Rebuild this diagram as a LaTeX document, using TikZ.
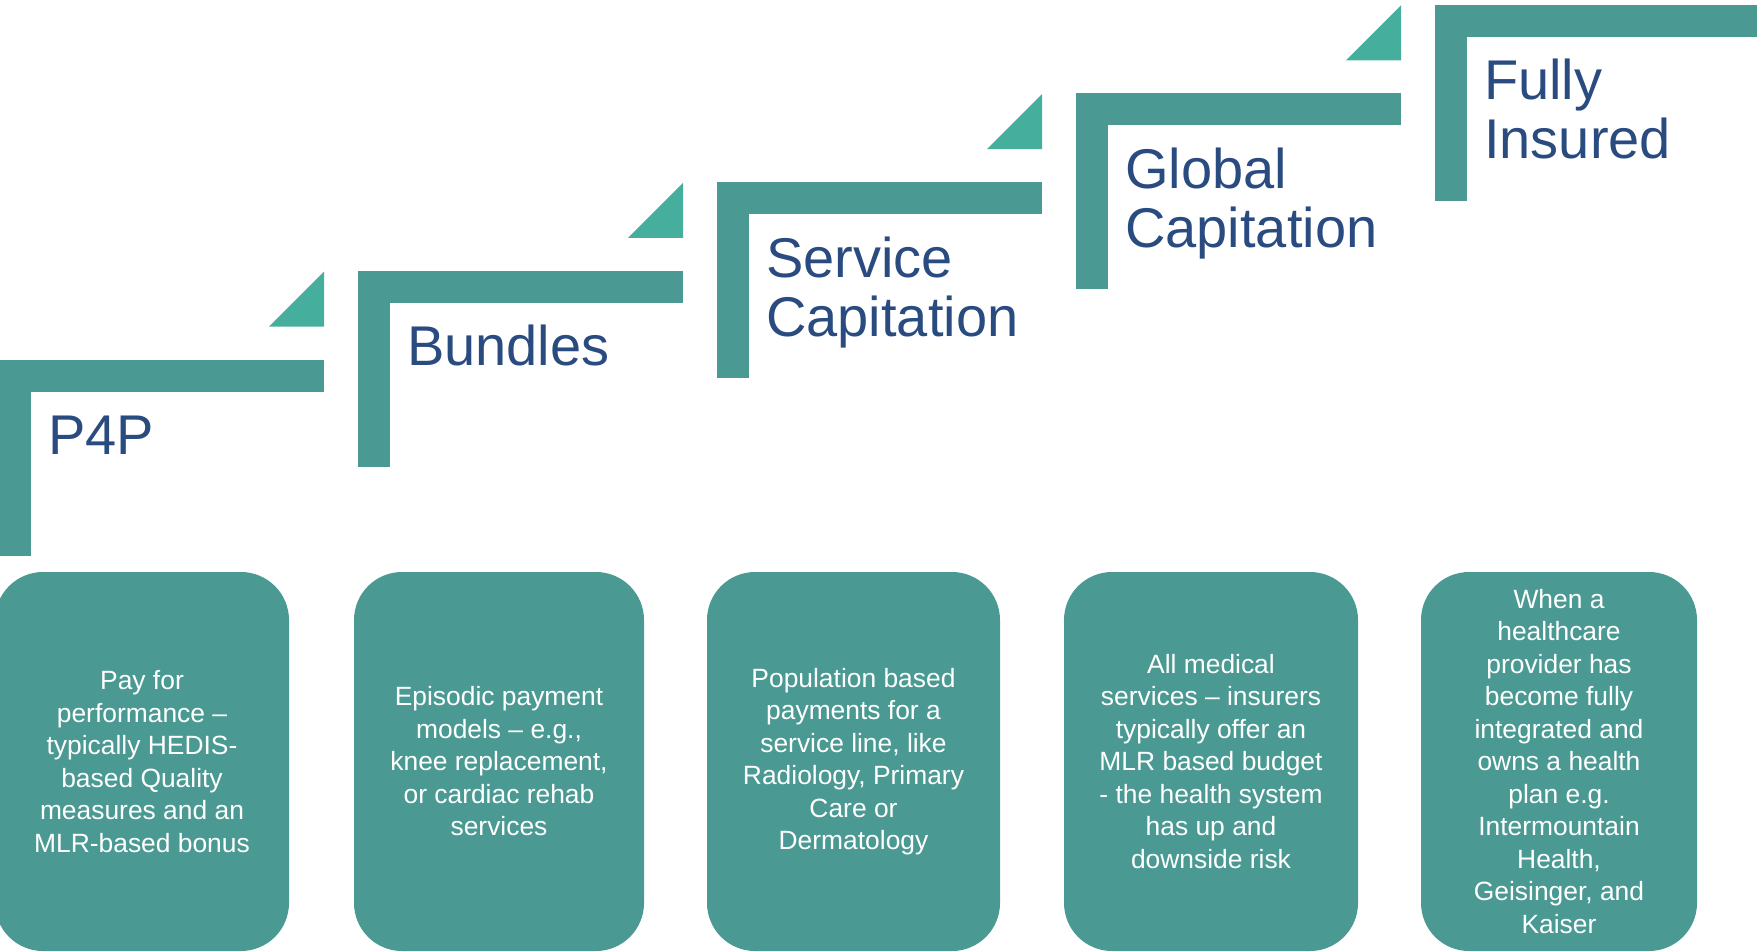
\documentclass[tikz,border=0pt]{standalone}
\usepackage{fontspec}
\setmainfont{Liberation Sans}
\definecolor{barteal}{HTML}{4A9A93}
\definecolor{tipteal}{HTML}{46AE9C}
\definecolor{titleblue}{HTML}{294B80}
\tikzset{
  stepbar/.style={fill=barteal},
  steptip/.style={fill=tipteal},
  steptitle/.style={anchor=base west,inner sep=0pt,align=left,text=titleblue,
    font=\fontsize{56}{59}\selectfont},
  infobox/.style={fill=barteal,rounded corners=48pt,text=white,align=center,
    inner sep=0pt,minimum height=379pt,font=\fontsize{26.4}{32.5}\selectfont}
}

\begin{document}
\begin{tikzpicture}[x=1pt,y=-1pt]
\useasboundingbox (0,0) rectangle (1757,951);
% staircase: one L-shaped bar per step, a small wedge above its right end
% (\k = number of extra title lines; the base anchor sits on the last one)
\foreach \i/\k/\n/\t in
  {0/0/p4p/P4P,1/0/bundles/Bundles,2/1/servcap/{Service\\Capitation},
   3/1/globcap/{Global\\Capitation},4/1/insured/{Fully\\Insured}}{
  \pgfmathsetmacro{\x}{-1+359*\i}
  \pgfmathsetmacro{\y}{359.5-88.75*\i}
  \pgfmathsetmacro{\e}{\x+325+10*(\i==4)}
  \fill[stepbar](\x,\y)rectangle(\e,\y+32);
  \fill[stepbar](\x,\y)rectangle(\x+32,\y+196);
  \ifnum\i<4
    \fill[steptip](\e,\y-88)--(\e,\y-33)--(\e-55,\y-33)--cycle;
  \fi
  \node[steptitle](\n)at(\x+49,\y+95+59*\k){\t};
}
% description boxes along the bottom
\foreach \c/\w/\n/\t in
  {142/294/p4pbox/{Pay for\\performance –\\typically HEDIS-\\based Quality\\measures and an\\MLR-based bonus},
   499/290/bundlesbox/{Episodic payment\\models – e.g.,\\knee replacement,\\or cardiac rehab\\services},
   853.5/293/servcapbox/{Population based\\payments for a\\service line, like\\Radiology, Primary\\Care or\\Dermatology},
   1211/294/globcapbox/{All medical\\services – insurers\\typically offer an\\MLR based budget\\- the health system\\has up and\\downside risk},
   1559/276/insuredbox/{When a\\healthcare\\provider has\\become fully\\integrated and\\owns a health\\plan e.g.\\Intermountain\\Health,\\Geisinger, and\\Kaiser}}
  \node[infobox,minimum width=\w pt](\n)at(\c,761.5){\t};
\end{tikzpicture}
\end{document}
